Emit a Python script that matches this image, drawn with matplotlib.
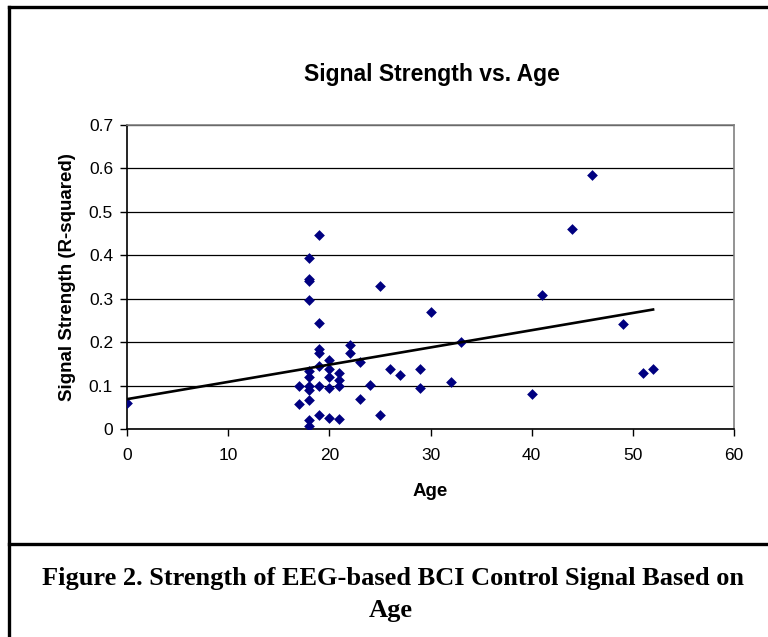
import matplotlib.pyplot as plt
import numpy as np

# ages and signal strength (R-squared)
age = [0,
       17, 17,
       18, 18, 18, 18, 18, 18, 18, 18, 18, 18, 18,
       19, 19, 19, 19, 19, 19, 19,
       20, 20, 20, 20, 20,
       21, 21, 21, 21,
       22, 22,
       23, 23,
       24,
       25, 25,
       26, 27, 29, 29, 30, 32, 33,
       40, 41, 44, 46, 49, 51, 52]
strength = [0.060,
            0.100, 0.057,
            0.393, 0.345, 0.340, 0.297, 0.133, 0.120, 0.100, 0.090, 0.067, 0.021, 0.008,
            0.447, 0.244, 0.185, 0.176, 0.146, 0.100, 0.033,
            0.159, 0.138, 0.120, 0.095, 0.026,
            0.128, 0.113, 0.100, 0.022,
            0.193, 0.176,
            0.155, 0.070,
            0.101,
            0.330, 0.033,
            0.138, 0.124, 0.138, 0.095, 0.270, 0.108, 0.200,
            0.081, 0.308, 0.461, 0.584, 0.241, 0.128, 0.138]

xticks = [0, 10, 20, 30, 40, 50, 60]
yticks = [0, 0.1, 0.2, 0.3, 0.4, 0.5, 0.6, 0.7]
ytick_labels = ['0', '0.1', '0.2', '0.3', '0.4', '0.5', '0.6', '0.7']

plt.rcParams['font.family'] = ['Liberation Sans', 'DejaVu Sans']

fig = plt.figure(figsize=(7.68, 6.37), dpi=100)
ax = fig.add_axes([127/768, 1 - 429/637, (734 - 127)/768, (429 - 125)/637])

ax.scatter(age, strength, marker='D', s=30, color='#000080', zorder=3, linewidths=0)

# linear trend line over the data range
slope, icpt = np.polyfit(age, strength, 1)
xs = np.array([min(age), max(age)])
ax.plot(xs, slope*xs + icpt, color='black', lw=1.9, zorder=4)

ax.set_xlim(0, 60)
ax.set_ylim(0, 0.7)
ax.set_xticks(xticks)
ax.set_yticks(yticks)
ax.set_yticklabels(ytick_labels)
ax.tick_params(direction='out', length=5, width=1, labelsize=12.5)
ax.tick_params(axis='x', pad=9)
ax.tick_params(axis='y', pad=5)
ax.yaxis.grid(True, color='black', lw=0.9)
ax.set_axisbelow(True)
for s in ['left', 'bottom']:
    ax.spines[s].set_color('black')
    ax.spines[s].set_linewidth(1.2)
for s in ['top', 'right']:
    ax.spines[s].set_color('#808080')
    ax.spines[s].set_linewidth(1.2)

ax.set_xlabel('Age', fontsize=13.5, fontweight='bold', labelpad=14)
ax.set_ylabel('Signal Strength (R-squared)', fontsize=13.5, fontweight='bold', labelpad=9)
fig.text(432/768, 1 - 75/637, 'Signal Strength vs. Age', ha='center', va='center',
         fontsize=16.5, fontweight='bold')

# outer frame and caption box
fig.add_artist(plt.Line2D([9/768, 9/768], [0, 1 - 7/637], color='black', lw=2.4,
                          transform=fig.transFigure))
fig.add_artist(plt.Line2D([9/768, 1], [1 - 7/637, 1 - 7/637], color='black', lw=2.4,
                          transform=fig.transFigure))
fig.add_artist(plt.Line2D([9/768, 1], [1 - 544/637, 1 - 544/637], color='black', lw=2.4,
                          transform=fig.transFigure))
fig.text(393/768, 1 - 578/637, 'Figure 2. Strength of EEG-based BCI Control Signal Based on',
         ha='center', va='center', fontsize=19, fontweight='bold', family='Liberation Serif')
fig.text(391/768, 1 - 611/637, 'Age',
         ha='center', va='center', fontsize=19, fontweight='bold', family='Liberation Serif')

fig.savefig('out.png', dpi=100)
